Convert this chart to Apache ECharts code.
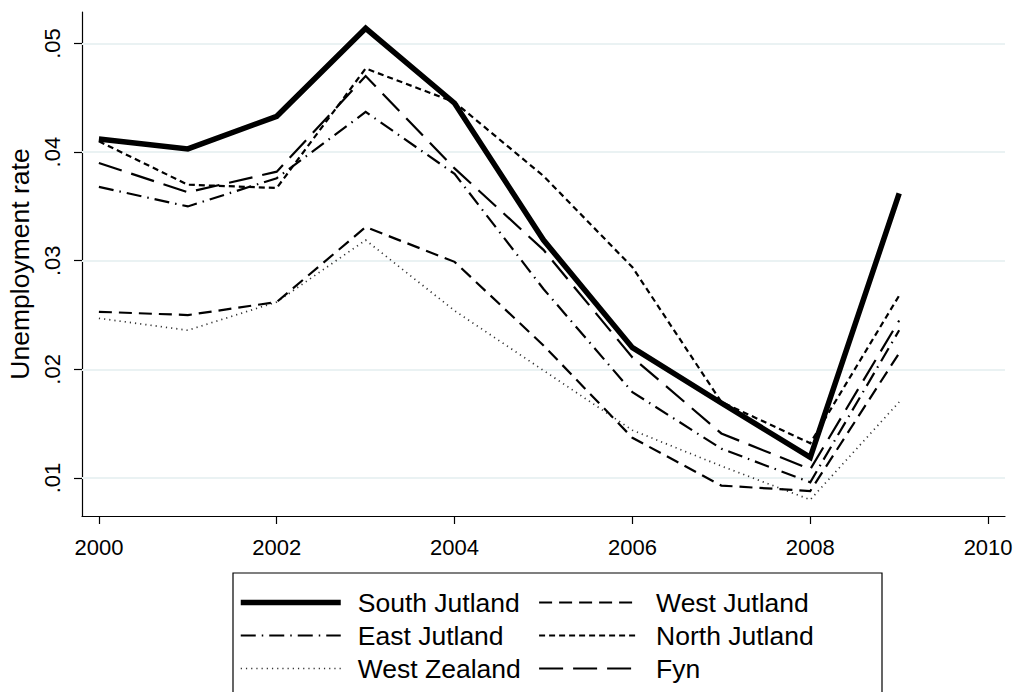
<!DOCTYPE html>
<html>
<head>
<meta charset="utf-8">
<script src="https://cdn.jsdelivr.net/npm/echarts@6/dist/echarts.min.js"></script>
<style>
html,body{margin:0;padding:0;background:#fff;}
#chart{width:1019px;height:692px;}
</style>
</head>
<body>
<div id="chart"></div>
<script>
const years = [2000, 2001, 2002, 2003, 2004, 2005, 2006, 2007, 2008, 2009];
const southJutland = [0.0412, 0.0403, 0.0433, 0.0514, 0.0445, 0.0319, 0.0220, 0.0169, 0.0119, 0.0362];
const westJutland  = [0.0253, 0.0250, 0.0262, 0.0331, 0.0299, 0.0222, 0.0137, 0.0093, 0.0088, 0.0215];
const eastJutland  = [0.0368, 0.0350, 0.0376, 0.0437, 0.0380, 0.0274, 0.0179, 0.0127, 0.0096, 0.0236];
const northJutland = [0.0410, 0.0370, 0.0367, 0.0477, 0.0446, 0.0378, 0.0294, 0.0170, 0.0132, 0.0268];
const westZealand  = [0.0247, 0.0236, 0.0262, 0.0319, 0.0254, 0.0199, 0.0144, 0.0111, 0.0080, 0.0170];
const fyn          = [0.0390, 0.0363, 0.0382, 0.0470, 0.0385, 0.0310, 0.0211, 0.0141, 0.0108, 0.0245];

const xTicks = [2000, 2002, 2004, 2006, 2008, 2010];
const yTicks = [0.01, 0.02, 0.03, 0.04, 0.05];
const yTickLabels = ['.01', '.02', '.03', '.04', '.05'];

const FONT = 'Liberation Sans, Arial, Helvetica, sans-serif';

function pairs(vals) { return years.map((y, i) => [y, vals[i]]); }

const seriesDefs = [
  { name: 'South Jutland', data: southJutland, width: 5.5, type: 'solid', color: '#000' },
  { name: 'West Jutland',  data: westJutland,  width: 2.2, type: [13, 7], color: '#000' },
  { name: 'East Jutland',  data: eastJutland,  width: 2.2, type: [15, 6, 1.5, 6], color: '#000' },
  { name: 'North Jutland', data: northJutland, width: 2.2, type: [6, 4], color: '#000' },
  { name: 'West Zealand',  data: westZealand,  width: 1.7, type: [1.2, 4], color: '#333' },
  { name: 'Fyn',           data: fyn,          width: 2.2, type: [24, 10], color: '#000' }
];
const widthOf = {};
seriesDefs.forEach(s => { widthOf[s.name] = s.width; });

const series = seriesDefs.map((s, idx) => {
  const o = {
    name: s.name,
    type: 'line',
    data: pairs(s.data),
    symbol: 'none',
    showSymbol: false,
    animation: false,
    z: 10 - idx,
    lineStyle: { color: s.color, width: s.width, type: s.type, cap: 'butt', join: 'miter' },
    itemStyle: { color: s.color }
  };
  if (idx === 0) {
    o.markLine = {
      silent: true,
      symbol: 'none',
      animation: false,
      label: { show: false },
      lineStyle: { color: '#eaf2f3', width: 2, type: 'solid' },
      z: 1,
      data: yTicks.map(v => ({ yAxis: v }))
    };
  }
  return o;
});

const legendCommon = {
  orient: 'vertical',
  top: 589,
  padding: 0,
  height: 100,
  itemWidth: 100, itemHeight: 14, itemGap: 6,
  itemStyle: { opacity: 0 },
  textStyle: { fontSize: 26.5, color: '#000', fontFamily: FONT, lineHeight: 26, height: 26, padding: [0, 0, 0, 12] },
  selectedMode: false
};
function legendItems(names) {
  return names.map(n => ({ name: n, lineStyle: { width: widthOf[n] }, itemStyle: { opacity: 0 } }));
}

const chart = echarts.init(document.getElementById('chart'), null, { renderer: 'svg' });
chart.setOption({
  backgroundColor: '#fff',
  animation: false,
  grid: { left: 82, top: 12, right: 14, bottom: 176, containLabel: false, outerBoundsMode: 'none' },
  xAxis: {
    type: 'value',
    min: 1999.81,
    max: 2010.19,
    axisLine: { show: true, lineStyle: { color: '#000', width: 1.2 } },
    axisTick: { show: true, length: 8, lineStyle: { color: '#000', width: 1.2 }, customValues: xTicks },
    axisLabel: { customValues: xTicks, margin: 20, fontSize: 22, color: '#000', fontFamily: FONT,
                 formatter: v => String(Math.round(v)) },
    splitLine: { show: false }
  },
  yAxis: {
    type: 'value',
    min: 0.0065,
    max: 0.0529,
    name: 'Unemployment rate',
    nameLocation: 'middle',
    nameGap: 47,
    nameTextStyle: { fontSize: 26.5, color: '#000', fontFamily: FONT },
    axisLine: { show: true, lineStyle: { color: '#000', width: 1.2 } },
    axisTick: { show: true, length: 8, lineStyle: { color: '#000', width: 1.2 }, customValues: yTicks },
    axisLabel: { customValues: yTicks, rotate: 90, margin: 19, fontSize: 22, color: '#000', fontFamily: FONT,
                 formatter: v => { const i = yTicks.findIndex(t => Math.abs(t - v) < 1e-9); return i >= 0 ? yTickLabels[i] : ''; } },
    splitLine: { show: false }
  },
  legend: [
    Object.assign({}, legendCommon, { left: 238, data: legendItems(['South Jutland', 'East Jutland', 'West Zealand']) }),
    Object.assign({}, legendCommon, { left: 538, data: legendItems(['West Jutland', 'North Jutland', 'Fyn']) })
  ],
  graphic: [
    { type: 'rect', shape: { x: 233, y: 573, width: 649, height: 140 },
      style: { fill: 'none', stroke: '#000', lineWidth: 1.2 }, z: -1, silent: true }
  ],
  series: series
});
</script>
</body>
</html>
